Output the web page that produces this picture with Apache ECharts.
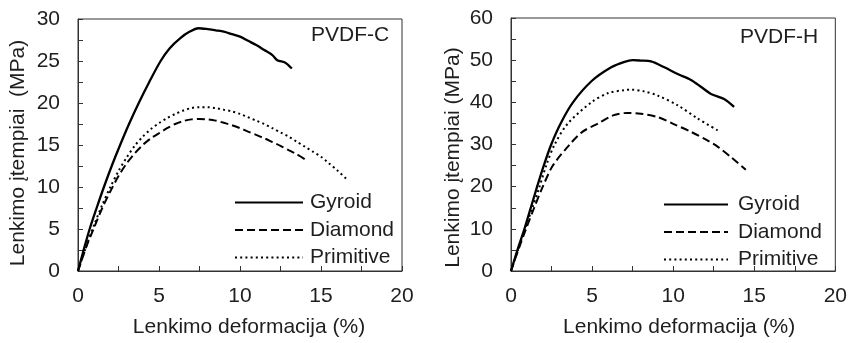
<!DOCTYPE html>
<html>
<head>
<meta charset="utf-8">
<script src="https://cdn.jsdelivr.net/npm/echarts@6/dist/echarts.min.js"></script>
<style>
html,body{margin:0;padding:0;background:#fff;}
#chart{width:850px;height:343px;}
</style>
</head>
<body>
<div id="chart"></div>
<script>
// ---- Data (strain %, stress MPa) ----
var seriesNames = ['Gyroid', 'Diamond', 'Primitive'];
var panelTitles = ['PVDF-C', 'PVDF-H'];
var xAxisName = 'Lenkimo deformacija (%)';
var yAxisNames = ['Lenkimo įtempiai  (MPa)', 'Lenkimo įtempiai (MPa)'];

// PVDF-C
var cGyroid = [[0,0],[0.35,2.5],[0.72,5],[1.15,7.5],[1.6,10],[2.08,12.5],[2.6,15],[3.15,17.5],[3.75,20],[4.4,22.5],[5.1,25],[5.65,26.5],[6.3,27.7],[6.9,28.5],[7.44,28.9],[8,28.8],[8.5,28.65],[9,28.5],[9.5,28.2],[10,27.9],[10.5,27.4],[11,26.9],[11.5,26.3],[12,25.7],[12.3,25.1],[12.8,24.8],[13.2,24.1]];
var cDiamond = [[0,0],[0.5,2.8],[1,5.2],[1.5,7.5],[2,9.5],[2.5,11.3],[3,12.8],[3.5,14.0],[4,15.0],[4.5,15.8],[5,16.4],[5.5,17.0],[6,17.5],[6.5,17.85],[7,18.05],[7.5,18.1],[8,18.05],[8.5,17.9],[9,17.65],[9.5,17.35],[10,17.0],[10.5,16.6],[11,16.2],[11.5,15.8],[12,15.35],[12.5,14.9],[13,14.4],[13.5,13.9],[14,13.3]];
var cPrimitive = [[0,0],[0.5,2.9],[1,5.5],[1.5,7.9],[2,10.0],[2.5,11.9],[3,13.5],[3.5,14.9],[4,16.0],[4.5,16.9],[5,17.6],[5.5,18.2],[6,18.7],[6.5,19.1],[7,19.4],[7.5,19.5],[8,19.5],[8.5,19.4],[9,19.2],[9.5,19.0],[10,18.7],[10.5,18.3],[11,17.9],[11.5,17.5],[12,17.0],[12.5,16.5],[13,16.0],[13.5,15.4],[14,14.8],[14.5,14.2],[15,13.6],[15.5,12.8],[16,12.0],[16.6,10.9]];

// PVDF-H
var hGyroid = [[0,0],[0.4,5],[0.83,10],[1.22,15],[1.61,20],[2.02,25],[2.48,30],[3.06,35],[3.82,40],[4.96,45],[6.18,48.3],[7.0,49.6],[7.5,50.0],[8.0,49.9],[8.64,49.7],[9.46,48.3],[10.28,46.7],[11.1,45.3],[11.71,43.7],[12.33,42.0],[13.14,40.8],[13.76,38.9]];
var hDiamond = [[0,0],[0.45,5],[0.93,10],[1.43,15],[1.96,20],[2.58,25],[3.62,30],[4.4,33],[5.37,35],[6.3,36.9],[7.2,37.5],[8.0,37.3],[9.05,36.5],[10.0,34.9],[11.1,33.0],[12.0,31.2],[12.74,29.5],[13.6,26.9],[14.48,24.0]];
var hPrimitive = [[0,0],[0.43,5],[0.87,10],[1.32,15],[1.76,20],[2.17,25],[2.69,30],[3.51,35],[4.96,40],[6.0,42.2],[7.0,42.9],[7.41,43.0],[8.2,42.6],[9.05,41.6],[10.28,39.3],[11.5,36.2],[12.9,33.0]];

var xTicks = {min:0, max:20, interval:2.5, labelStep:5};
var yTicks = [{min:0, max:30, interval:2.5, labelStep:5}, {min:0, max:60, interval:5, labelStep:10}];

// ---- Chart ----
var FONT = '"Liberation Sans", Arial, sans-serif';
var FS = 21;
var TXT = '#1e1e1e';
var AX = '#333';
var styles = {
  Gyroid: {type:'solid', width:2.3},
  Diamond: {type:[8,4], width:2},
  Primitive: {type:[2,3.2], width:2}
};

var grids = [
  {left:78, right:448, top:19, bottom:69},
  {left:511, right:13, top:18, bottom:69}
];
var xNamePad = [[0,0,0,18],[0,0,0,12]];
var yNamePad = [[0,16,0,0],[0,26,0,0]];

function mkX(i){
  return {
    type:'value', gridIndex:i, min:xTicks.min, max:xTicks.max, interval:xTicks.interval,
    name:xAxisName, nameLocation:'middle', nameGap:46,
    nameTextStyle:{fontFamily:FONT, fontSize:FS, color:TXT, padding:xNamePad[i]},
    axisLine:{show:true, lineStyle:{color:AX, width:1}},
    axisTick:{show:true, inside:true, length:5, lineStyle:{color:AX}},
    splitLine:{show:false},
    axisLabel:{fontFamily:FONT, fontSize:FS, color:TXT, margin:15,
      formatter:function(v){ return (Math.abs(v % xTicks.labelStep) < 1e-9) ? String(v) : ''; }}
  };
}
function mkY(i){
  var t = yTicks[i];
  return {
    type:'value', gridIndex:i, min:t.min, max:t.max, interval:t.interval,
    name:yAxisNames[i], nameLocation:'middle', nameGap: i===0 ? 49 : 47,
    nameTextStyle:{fontFamily:FONT, fontSize:FS, color:TXT, padding:yNamePad[i]},
    axisLine:{show:true, lineStyle:{color:AX, width:1}},
    axisTick:{show:true, inside:true, length:5, lineStyle:{color:AX}},
    splitLine:{show:false},
    axisLabel:{fontFamily:FONT, fontSize:FS, color:TXT, margin:18,
      formatter:function(v){ return (Math.abs(v % t.labelStep) < 1e-9) ? String(v) : ''; }}
  };
}

var panelData = [[cGyroid, cDiamond, cPrimitive],[hGyroid, hDiamond, hPrimitive]];
var series = [];
panelData.forEach(function(arrs, p){
  arrs.forEach(function(d, k){
    var nm = seriesNames[k];
    series.push({
      type:'line', name:nm, xAxisIndex:p, yAxisIndex:p, data:d,
      showSymbol:false, symbol:'none', smooth:0.3,
      lineStyle:{color:'#000', type:styles[nm].type, width:styles[nm].width},
      itemStyle:{color:'#000'}, animation:false
    });
  });
});

var legendCommon = {
  orient:'vertical', data:seriesNames, itemHeight:14, itemGap:6.5,
  itemStyle:{opacity:0},
  textStyle:{fontFamily:FONT, fontSize:FS, color:TXT, lineHeight:20, padding:[0,0,0,2]},
  selectedMode:false
};

var option = {
  backgroundColor:'#fff',
  animation:false,
  grid: grids.map(function(g){ return Object.assign({show:true, borderColor:AX, borderWidth:1, backgroundColor:'transparent'}, g); }),
  xAxis:[mkX(0), mkX(1)],
  yAxis:[mkY(0), mkY(1)],
  legend:[
    Object.assign({}, legendCommon, {left:229, top:187, itemWidth:68}),
    Object.assign({}, legendCommon, {left:658, top:189, itemWidth:64, textStyle:Object.assign({}, legendCommon.textStyle, {padding:[0,0,0,5]})})
  ],
  graphic:[
    {type:'text', left:311, top:25, style:{text:panelTitles[0], font:FS + 'px ' + FONT, fill:TXT}},
    {type:'text', left:740, top:27, style:{text:panelTitles[1], font:FS + 'px ' + FONT, fill:TXT}}
  ],
  series:series
};

var chart = echarts.init(document.getElementById('chart'), null, {renderer:'canvas'});
chart.setOption(option);
</script>
</body>
</html>
